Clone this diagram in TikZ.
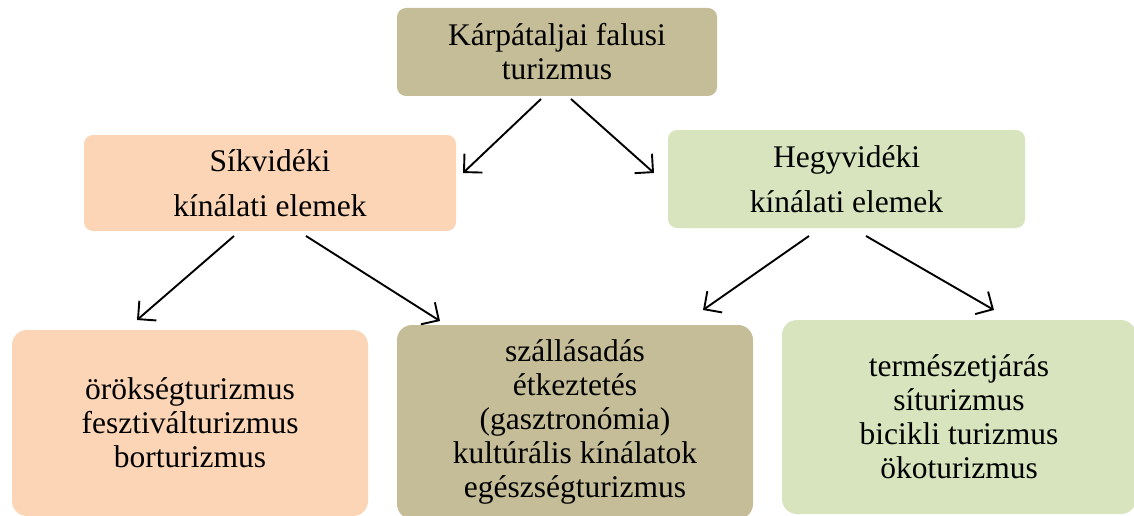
\documentclass[tikz,border=0pt]{standalone}
\usepackage{fontspec}
\setmainfont{Liberation Serif}
\usetikzlibrary{arrows.meta}
\definecolor{khaki}{HTML}{C4BD97}
\definecolor{peach}{HTML}{FBD5B5}
\definecolor{sage}{HTML}{D7E4BD}
\tikzset{
  box/.style={rectangle, draw=none, align=center, inner sep=0pt, outer sep=0pt,
    font=\fontsize{31.5}{34}\selectfont},
  midbox/.style={box, rounded corners=9pt, font=\fontsize{31.5}{45}\selectfont},
  lowbox/.style={box, rounded corners=15pt},
  arr/.style={line width=1.9pt, -{Straight Barb[length=13pt, width=26pt, line width=1.9pt]}}
}
\begin{document}
\begin{tikzpicture}[x=1pt,y=-1pt]
\useasboundingbox (0,0) rectangle (1134,516);
% top
\node[box, fill=khaki, rounded corners=9pt, minimum width=320pt, minimum height=88pt]
  (top) at (557,52) {Kárpátaljai falusi\\turizmus};
% middle
\node[midbox, fill=peach, minimum width=372pt, minimum height=96pt]
  (left) at (270,183) {Síkvidéki\\kínálati elemek};
\node[midbox, fill=sage, minimum width=357pt, minimum height=98pt]
  (right) at (846.5,179) {Hegyvidéki\\kínálati elemek};
% bottom
\node[lowbox, fill=peach, minimum width=356pt, minimum height=186pt]
  (bl) at (190,423) {örökségturizmus\\fesztiválturizmus\\borturizmus};
\node[lowbox, fill=khaki, minimum width=356pt, minimum height=194pt]
  (bm) at (575,422) {szállásadás\\étkeztetés\\(gasztronómia)\\kultúrális kínálatok\\egészségturizmus};
\node[lowbox, fill=sage, minimum width=354pt, minimum height=194pt]
  (br) at (959,417) {természetjárás\\síturizmus\\bicikli turizmus\\ökoturizmus};
% arrow endpoints
\coordinate (a1s) at (541,99);  \coordinate (a1e) at (463,173);
\coordinate (a2s) at (571,99);  \coordinate (a2e) at (654,173);
\coordinate (a3s) at (234,236); \coordinate (a3e) at (137,320);
\coordinate (a4s) at (306,236); \coordinate (a4e) at (440,321);
\coordinate (a5s) at (809,236); \coordinate (a5e) at (703,310);
\coordinate (a6s) at (866,236); \coordinate (a6e) at (994,310);
\draw[arr] (a1s) -- (a1e);
\draw[arr] (a2s) -- (a2e);
\draw[arr] (a3s) -- (a3e);
\draw[arr] (a4s) -- (a4e);
\draw[arr] (a5s) -- (a5e);
\draw[arr] (a6s) -- (a6e);
\end{tikzpicture}
\end{document}
